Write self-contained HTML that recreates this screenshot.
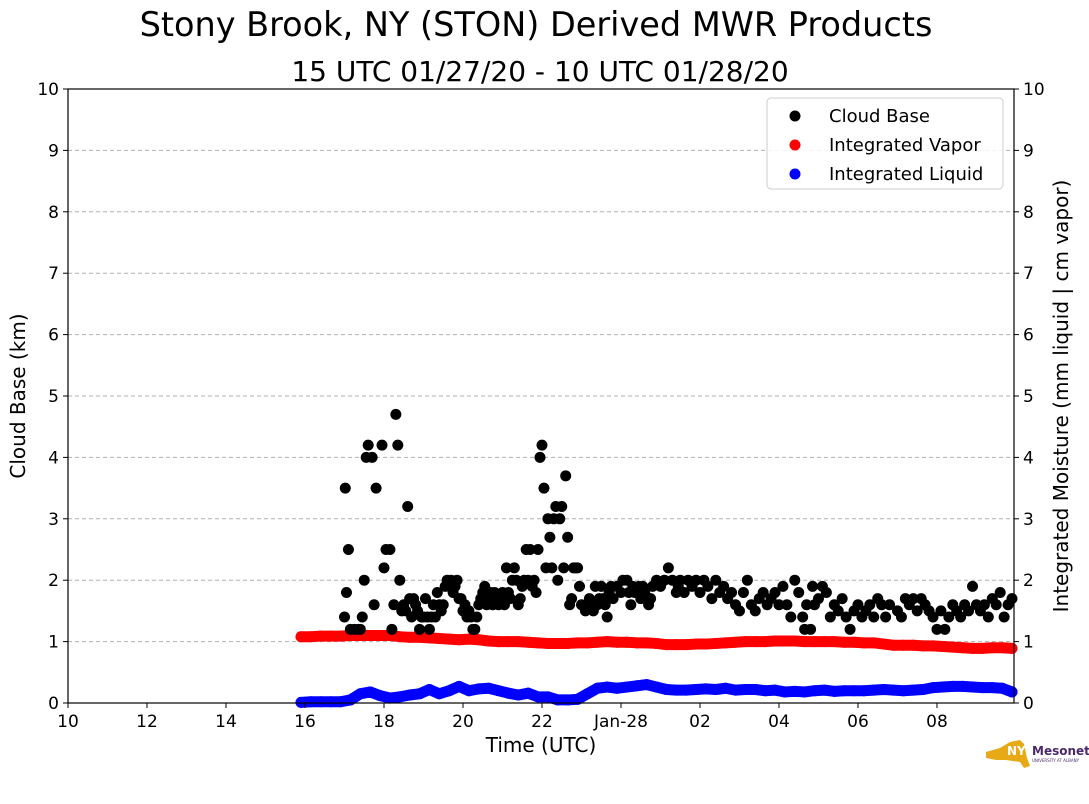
<!DOCTYPE html>
<html><head><meta charset="utf-8"><style>
body{margin:0;background:#fff;font-family:"Liberation Sans","DejaVu Sans",sans-serif}
svg{display:block}
</style></head><body>
<svg id="chart" width="1089" height="804" viewBox="0 0 1089 804" font-family="'DejaVu Sans','Liberation Sans',sans-serif">
<text x="536" y="36" font-size="33.5" text-anchor="middle">Stony Brook, NY (STON) Derived MWR Products</text>
<text x="540" y="81" font-size="28" text-anchor="middle">15 UTC 01/27/20 - 10 UTC 01/28/20</text>
<g id="grid"></g>
<g id="marks"></g>
<rect x="68" y="89" width="946" height="614" fill="none" stroke="#000" stroke-width="1.2"/>
<g id="axes" font-size="17"></g>
<text x="541" y="752" font-size="20" text-anchor="middle">Time (UTC)</text>
<text transform="translate(25,396) rotate(-90)" font-size="20" text-anchor="middle">Cloud Base (km)</text>
<text transform="translate(1068,396) rotate(-90)" font-size="20" text-anchor="middle">Integrated Moisture (mm liquid | cm vapor)</text>
<g>
<rect x="767" y="98" width="236" height="91" rx="4" fill="#fff" fill-opacity="0.85" stroke="#ccc"/>
<circle cx="795" cy="116" r="5.5" fill="#000"/><text x="829" y="122" font-size="18">Cloud Base</text>
<circle cx="795" cy="145" r="5.5" fill="red"/><text x="829" y="151" font-size="18">Integrated Vapor</text>
<circle cx="795" cy="174" r="5.5" fill="blue"/><text x="829" y="180" font-size="18">Integrated Liquid</text>
</g>
<g>
<path d="M986 752 L1000 748 L1010 742 L1020 740 L1024 744 L1027 758 L1030 766 L1024 768 L1020 762 L1006 760 L996 760 L986 758 Z" fill="#e8a917"/>
<text x="1007" y="755" font-size="12" font-weight="bold" fill="#fff">NYS</text>
<text x="1032" y="755" font-size="12" font-weight="bold" fill="#4b2a6b">Mesonet</text>
<text x="1032" y="762" font-size="4" fill="#4b2a6b">UNIVERSITY AT ALBANY</text>
</g>
</svg>
<script>
const xTicks=[10,12,14,16,18,20,22,24,26,28,30,32];
const xTickLabels=["10","12","14","16","18","20","22","Jan-28","02","04","06","08"];
const yTicks=[0,1,2,3,4,5,6,7,8,9,10];
const cloudTimes=[17.0,17.02,17.05,17.1,17.15,17.25,17.35,17.4,17.45,17.5,17.55,17.6,17.7,17.75,17.8,17.95,18.0,18.05,18.15,18.2,18.25,18.3,18.35,18.4,18.45,18.5,18.55,18.6,18.65,18.7,18.75,18.8,18.85,18.9,18.95,19.0,19.05,19.1,19.15,19.2,19.25,19.3,19.35,19.4,19.45,19.5,19.55,19.6,19.65,19.7,19.75,19.8,19.85,19.9,19.95,20.0,20.05,20.1,20.15,20.2,20.25,20.3,20.35,20.4,20.45,20.5,20.55,20.6,20.65,20.7,20.75,20.8,20.85,20.9,20.95,21.0,21.05,21.1,21.15,21.2,21.25,21.3,21.35,21.4,21.45,21.5,21.55,21.6,21.65,21.7,21.75,21.8,21.85,21.9,21.95,22.0,22.05,22.1,22.15,22.2,22.25,22.3,22.35,22.4,22.45,22.5,22.55,22.6,22.65,22.7,22.75,22.8,22.85,22.9,22.95,23.0,23.1,23.15,23.2,23.3,23.35,23.4,23.45,23.5,23.55,23.6,23.65,23.7,23.75,23.8,23.9,24.0,24.05,24.15,24.2,24.25,24.3,24.35,24.45,24.5,24.55,24.6,24.7,24.75,24.8,24.9,25.0,25.1,25.2,25.3,25.4,25.45,25.5,25.6,25.7,25.8,25.9,26.0,26.1,26.2,26.3,26.4,26.5,26.6,26.7,26.8,26.9,27.0,27.1,27.2,27.3,27.4,27.5,27.6,27.7,27.8,27.9,28.0,28.1,28.2,28.3,28.4,28.5,28.6,28.65,28.7,28.8,28.85,28.9,29.0,29.1,29.2,29.3,29.4,29.5,29.6,29.7,29.8,29.9,30.0,30.1,30.2,30.3,30.4,30.5,30.6,30.7,30.8,31.0,31.1,31.2,31.3,31.4,31.5,31.6,31.7,31.8,31.9,32.0,32.1,32.2,32.3,32.4,32.5,32.6,32.7,32.8,32.9,33.0,33.1,33.2,33.3,33.4,33.5,33.6,33.7,33.8,33.9];
const cloudBase=[1.4,3.5,1.8,2.5,1.2,1.2,1.2,1.2,1.4,2.0,4.0,4.2,4.0,1.6,3.5,4.2,2.2,2.5,2.5,1.2,1.6,4.7,4.2,2.0,1.5,1.6,1.5,3.2,1.7,1.4,1.7,1.6,1.5,1.2,1.4,1.4,1.7,1.4,1.2,1.4,1.6,1.4,1.8,1.6,1.5,1.6,1.9,2.0,1.9,2.0,1.8,1.9,2.0,1.7,1.7,1.5,1.6,1.4,1.5,1.4,1.2,1.2,1.4,1.6,1.7,1.8,1.9,1.6,1.7,1.8,1.6,1.8,1.7,1.6,1.7,1.8,1.6,2.2,1.8,1.7,2.0,2.2,2.0,1.6,1.7,1.9,2.0,2.5,2.0,2.5,1.9,2.0,1.8,2.5,4.0,4.2,3.5,2.2,3.0,2.7,2.2,3.0,3.2,2.0,3.0,3.2,2.2,3.7,2.7,1.6,1.7,2.2,2.2,2.2,1.9,1.6,1.5,1.6,1.7,1.5,1.9,1.6,1.7,1.9,1.7,1.6,1.4,1.8,1.9,1.7,1.9,1.8,2.0,2.0,1.8,1.6,1.9,1.8,1.9,1.7,1.9,1.8,1.6,1.7,1.9,2.0,1.9,2.0,2.2,2.0,1.8,1.9,2.0,1.8,2.0,1.9,2.0,1.8,2.0,1.9,1.7,2.0,1.8,1.9,1.7,1.8,1.6,1.5,1.8,2.0,1.6,1.5,1.7,1.8,1.6,1.7,1.8,1.6,1.9,1.6,1.4,2.0,1.8,1.4,1.2,1.6,1.2,1.9,1.6,1.7,1.9,1.8,1.4,1.6,1.5,1.7,1.4,1.2,1.5,1.6,1.4,1.5,1.6,1.4,1.7,1.6,1.4,1.6,1.5,1.4,1.7,1.6,1.7,1.5,1.7,1.6,1.5,1.4,1.2,1.5,1.2,1.4,1.6,1.5,1.4,1.6,1.5,1.9,1.6,1.5,1.6,1.4,1.7,1.6,1.8,1.4,1.6,1.7];
const moistTimes=[15.9,16.15,16.4,16.65,16.9,17.15,17.4,17.65,17.9,18.15,18.4,18.65,18.9,19.15,19.4,19.65,19.9,20.15,20.4,20.65,20.9,21.15,21.4,21.65,21.9,22.15,22.4,22.65,22.9,23.15,23.4,23.65,23.9,24.15,24.4,24.65,24.9,25.15,25.4,25.65,25.9,26.15,26.4,26.65,26.9,27.15,27.4,27.65,27.9,28.15,28.4,28.65,28.9,29.15,29.4,29.65,29.9,30.15,30.4,30.65,30.9,31.15,31.4,31.65,31.9,32.15,32.4,32.65,32.9,33.15,33.4,33.65,33.9];
const vapor=[1.08,1.08,1.09,1.09,1.09,1.10,1.10,1.10,1.10,1.10,1.08,1.07,1.07,1.06,1.05,1.04,1.03,1.04,1.03,1.01,1.00,1.00,1.00,0.99,0.98,0.97,0.97,0.97,0.98,0.98,0.99,1.00,0.99,0.99,0.98,0.98,0.97,0.95,0.95,0.95,0.96,0.96,0.97,0.98,0.99,1.00,1.00,1.00,1.01,1.01,1.01,1.00,1.00,1.00,1.00,0.99,0.99,0.98,0.98,0.96,0.94,0.94,0.94,0.93,0.93,0.92,0.91,0.90,0.89,0.89,0.90,0.90,0.89];
const liquid=[0.01,0.02,0.02,0.02,0.02,0.05,0.15,0.18,0.12,0.08,0.10,0.13,0.15,0.22,0.15,0.20,0.27,0.20,0.23,0.24,0.20,0.16,0.13,0.16,0.10,0.10,0.05,0.05,0.06,0.15,0.24,0.26,0.24,0.26,0.28,0.30,0.26,0.22,0.21,0.21,0.22,0.23,0.22,0.24,0.21,0.22,0.22,0.20,0.21,0.18,0.19,0.18,0.20,0.21,0.19,0.20,0.20,0.20,0.21,0.22,0.21,0.20,0.21,0.22,0.25,0.26,0.27,0.27,0.26,0.25,0.25,0.24,0.18];

const NS='http://www.w3.org/2000/svg';
const X0=68,X1=1014,Y0=703,Y1=89,TMIN=10,TMAX=33.95;
const xs=t=>X0+(t-TMIN)/(TMAX-TMIN)*(X1-X0);
const ys=v=>Y0-v/10*(Y0-Y1);
function mk(tag,attrs,parent){const e=document.createElementNS(NS,tag);for(const k in attrs)e.setAttribute(k,attrs[k]);parent.appendChild(e);return e;}
const grid=document.getElementById('grid'),marks=document.getElementById('marks'),axes=document.getElementById('axes');
yTicks.forEach(v=>{
  if(v>0&&v<10){const g=mk('line',{x1:X0,x2:X1,y1:ys(v),y2:ys(v),stroke:'#b0b0b0','stroke-dasharray':'4,3'},grid);
  
  }
  mk('line',{x1:X0-5,x2:X0,y1:ys(v),y2:ys(v),stroke:'#000'},axes);
  mk('line',{x1:X1,x2:X1+5,y1:ys(v),y2:ys(v),stroke:'#000'},axes);
  const l=mk('text',{x:X0-9,y:ys(v)+6,'text-anchor':'end'},axes);l.textContent=v;
  
  
  const r=mk('text',{x:X1+9,y:ys(v)+6},axes);r.textContent=v;
  
  
});
xTicks.forEach((t,i)=>{
  mk('line',{x1:xs(t),x2:xs(t),y1:Y0,y2:Y0+5,stroke:'#000'},axes);
  const l=mk('text',{x:xs(t),y:Y0+24,'text-anchor':'middle'},axes);l.textContent=xTickLabels[i];
  
  
});
function band(vals,color,name){
  const g=mk('g',{},marks);
  
  
  mk('polyline',{points:moistTimes.map((t,i)=>xs(t)+','+ys(vals[i])).join(' '),fill:'none',stroke:color,'stroke-width':11,'stroke-linejoin':'round','stroke-linecap':'round'},g);
  moistTimes.forEach((t,i)=>mk('circle',{cx:xs(t),cy:ys(vals[i]),r:5.5,fill:color},g));
}
band(vapor,'red','integrated-vapor-series');
band(liquid,'blue','integrated-liquid-series');
const cg=mk('g',{},marks);


cloudTimes.forEach((t,i)=>{const c=mk('circle',{cx:xs(t),cy:ys(cloudBase[i]),r:5.5,fill:'#000'},cg);
  
  });
</script>
</body></html>
